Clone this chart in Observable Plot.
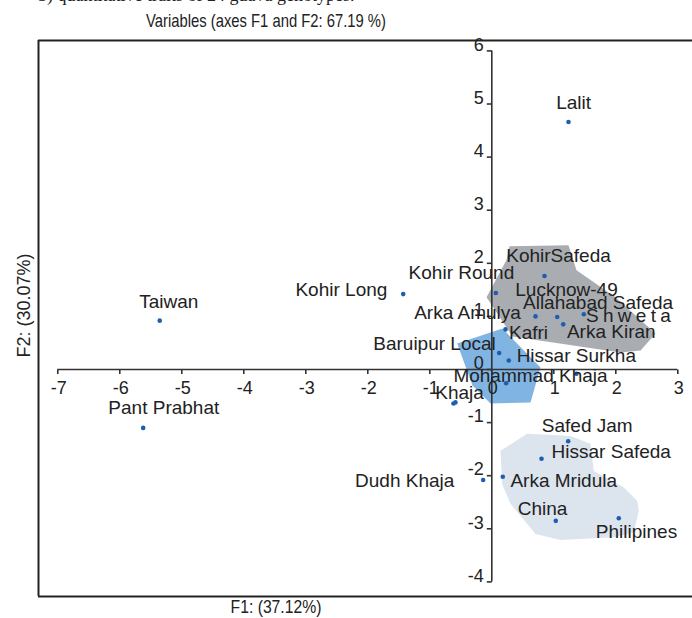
<!DOCTYPE html>
<html>
<head>
<meta charset="utf-8">
<script src="https://cdn.jsdelivr.net/npm/d3@7"></script>
<script src="https://cdn.jsdelivr.net/npm/@observablehq/plot@0.6"></script>
<style>
  html, body { margin: 0; padding: 0; background: #fff; overflow: hidden; }
  body { width: 692px; height: 618px; position: relative; font-family: "Liberation Sans", Arial, sans-serif; }
  #cut { position: absolute; left: 38px; top: -14px; font: 18px/18px "Liberation Serif", "Times New Roman", serif; color: #222; white-space: nowrap; }
  #title { position: absolute; left: 0; width: 532px; top: 10px; text-align: center; font-size: 18.5px; color: #222; white-space: nowrap; transform: scaleX(0.8); transform-origin: 266px 0; }
  #chart { position: absolute; left: 0; top: 36px; }
  #xlabel { position: absolute; left: 0; width: 552px; top: 596px; text-align: center; font-size: 18.5px; color: #222; white-space: nowrap; transform: scaleX(0.85); transform-origin: 276px 0; }
</style>
</head>
<body>
<div id="cut">3) quantitative traits of 24 guava genotypes.</div>
<div id="title">Variables (axes F1 and F2: 67.19 %)</div>
<div id="chart"></div>
<div id="xlabel">F1: (37.12%)</div>
<script>
// Genotype scores (F1, F2)
const genotypes = ["Lalit","KohirSafeda","Kohir Round","Kohir Long","Taiwan","Pant Prabhat",
  "Lucknow-49","Allahabad Safeda","Shweta","Arka Kiran","Arka Amulya","Kafri","Baruipur Local",
  "Hissar Surkha","Mohammad Khaja","Khaja","(unlabelled)","Safed Jam","Hissar Safeda",
  "Arka Mridula","Dudh Khaja","China","Philipines"];
const f1 = [1.237, 0.85, 0.065, -1.429, -5.356, -5.623,
  0.705, 1.055, 1.484, 1.152, 0.221, 0.232, 0.119,
  0.274, 1.366, -0.618, -0.586, 1.232, 0.802,
  0.177, -0.139, 1.032, 2.048];
const f2 = [4.66, 1.76, 1.44, 1.42, 0.92, -1.10,
  1.00, 0.99, 1.04, 0.85, 0.755, -0.26, 0.31,
  0.17, -0.08, -0.64, -0.62, -1.35, -1.68,
  -2.02, -2.08, -2.85, -2.80];

// Label placements (in F1/F2 units)
const labelText = ["Lalit","KohirSafeda","Kohir Round","Kohir Long","Taiwan","Pant Prabhat",
  "Lucknow-49","Allahabad Safeda","Shweta","Arka Kiran","Arka Amulya","Kafri","Baruipur Local",
  "Hissar Surkha","Mohammad Khaja","Khaja","Safed Jam","Hissar Safeda","Arka Mridula",
  "Dudh Khaja","China","Philipines"];
const labelF1 = [1.32, 1.076, -0.49, -2.426, -5.21, -5.29,
  1.205, 1.713, 2.237, 1.927, -0.392, 0.592, -0.924,
  1.363, 0.624, -0.52, 1.539, 1.927, 1.16,
  -1.405, 0.818, 2.334];
const labelF2 = [5.02, 2.13, 1.81, 1.49, 1.27, -0.72,
  1.49, 1.26, 1.00, 0.70, 1.06, 0.68, 0.49,
  0.26, -0.13, -0.45, -1.06, -1.55, -2.09,
  -2.09, -2.63, -3.06];

// Group regions
const greyF1 = [-0.085, 0.237, 0.285, 1.237, 1.366, 1.995, 2.64, 2.40, 2.075, 0.334];
const greyF2 = [1.36, 2.06, 2.32, 2.34, 1.87, 1.36, 0.68, 0.36, 0.32, 0.62];
const blueF1 = [-0.558, 0.173, 0.785, 0.624, -0.021, -0.311];
const blueF2 = [0.49, 0.77, 0.04, -0.62, -0.64, -0.30];
const paleF1 = [0.14, 0.571, 1.269, 1.592, 1.645, 2.129, 2.345, 2.371, 2.29, 1.968, 1.108, 0.705, 0.302, 0.168];
const paleF2 = [-1.53, -1.21, -1.25, -1.40, -1.91, -2.22, -2.47, -2.66, -3.07, -3.16, -3.21, -3.10, -2.53, -2.16];

const xTicks = [-7,-6,-5,-4,-3,-2,-1,0,1,2,3];
const yTicks = [-4,-3,-2,-1,0,1,2,3,4,5,6];

const pts = genotypes.map((n,i) => ({name:n, x:f1[i], y:f2[i]}));
const labels = labelText.map((t,i) => ({text:t, x:labelF1[i], y:labelF2[i]}));
const poly = (xs, ys) => xs.map((x,i) => ({x, y: ys[i]}));

const tickDown = {draw(ctx){ ctx.moveTo(0,0); ctx.lineTo(0,4.5); }};
const tickLeft = {draw(ctx){ ctx.moveTo(0,0); ctx.lineTo(-5,0); }};

const xDomain = [-7.311, 3.237];
const yDomain = [-4.275, 6.196];
const axisColor = "#333";
const font = "Liberation Sans, Arial, sans-serif";

const chart = Plot.plot({
  width: 692, height: 582,
  marginTop: 4, marginBottom: 22, marginLeft: 38, marginRight: 0,
  x: {domain: xDomain, axis: null},
  y: {domain: yDomain, axis: null},
  style: {fontFamily: font, background: "transparent", color: "#222"},
  marks: [
    Plot.line(poly(paleF1, paleF2), {x:"x", y:"y", fill:"#dce4ee", stroke:"none", curve:"linear-closed"}),
    Plot.line(poly(greyF1, greyF2), {x:"x", y:"y", fill:"#a9adb1", stroke:"none", curve:"linear-closed"}),
    Plot.line(poly(blueF1, blueF2), {x:"x", y:"y", fill:"#80b4e2", stroke:"none", curve:"linear-closed"}),
    // frame (left, top, bottom)
    Plot.ruleX([xDomain[0]], {stroke:"#222", strokeWidth:2}),
    Plot.ruleY(yDomain, {stroke:"#222", strokeWidth:2}),
    // axes through origin
    Plot.ruleY([0], {x1: xTicks[0], x2: xTicks[xTicks.length-1], stroke: axisColor, strokeWidth: 1.6}),
    Plot.ruleX([0], {y1: yTicks[0], y2: yTicks[yTicks.length-1], stroke: axisColor, strokeWidth: 1.6}),
    Plot.dot(xTicks, {x: d => d, y: () => 0, symbol: tickDown, r: 5, stroke: axisColor, strokeWidth: 1.6, fill: "none"}),
    Plot.dot(yTicks, {x: () => 0, y: d => d, symbol: tickLeft, r: 5, stroke: axisColor, strokeWidth: 1.6, fill: "none"}),
    Plot.text(xTicks, {x: d => d, y: () => 0, text: d => d < 0 ? "-" + Math.abs(d) : String(d), dy: 19, dx: 1, fontSize: 18, fill: "#222", lineAnchor: "middle"}),
    Plot.text(yTicks, {x: () => 0, y: d => d, text: d => d < 0 ? "-" + Math.abs(d) : String(d), dx: -8, dy: -6, textAnchor: "end", fontSize: 18, fill: "#222", lineAnchor: "middle"}),
    // genotype points
    Plot.dot(pts, {x:"x", y:"y", r: 2.3, fill:"#1d5db3", stroke:"none"}),
    Plot.text(labels, {x:"x", y:"y", text:"text", fontSize: 19, fill:"#222", textAnchor:"middle", lineAnchor:"middle"}),
    // y axis title
    Plot.text(["F2: (30.07%)"], {frameAnchor:"left", text: d => d, rotate: -90, dx: -14, dy: 39, fontSize: 18, fill:"#222", lineAnchor:"middle"})
  ]
});
document.getElementById("chart").appendChild(chart);
d3.select(chart).selectAll("text").filter(function(){ return this.textContent === "Shweta"; })
  .attr("letter-spacing", "4.3px");
</script>
</body>
</html>
